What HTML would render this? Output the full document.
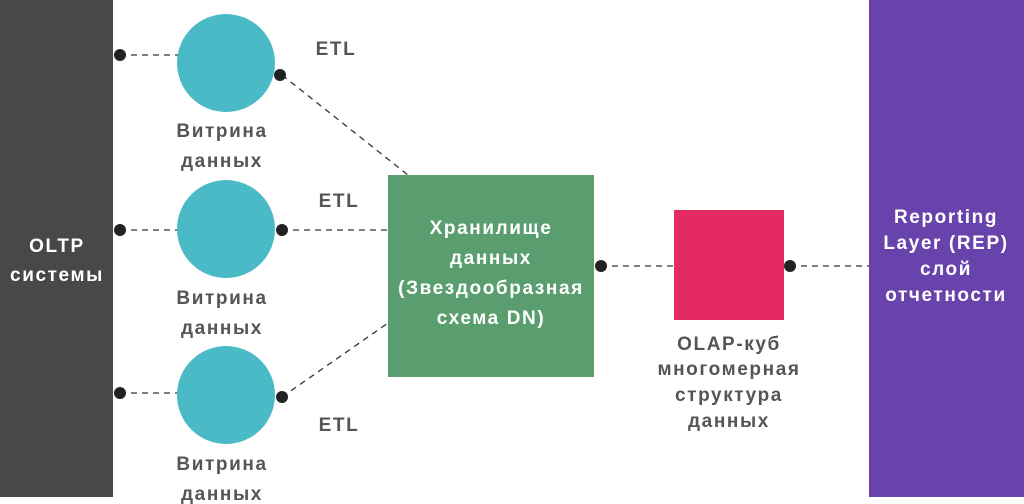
<!DOCTYPE html>
<html><head><meta charset="utf-8"><style>
html,body{margin:0;padding:0;background:#fff;}
svg{display:block}
text{font-family:"Liberation Sans","DejaVu Sans",sans-serif;font-weight:bold;font-size:19px;letter-spacing:1.6px;text-anchor:middle}
.g{fill:#555}
.w{fill:#fff}
line{stroke:#333;stroke-width:1.3;stroke-dasharray:6,5}
</style></head><body>
<svg width="1024" height="504" viewBox="0 0 1024 504">
<rect x="0" y="0" width="113" height="497" fill="#484848"/>
<rect x="869" y="0" width="155" height="497" fill="#6943ac"/>
<rect x="388" y="175" width="206" height="202" fill="#5a9e6f"/>
<rect x="674" y="210" width="110" height="110" fill="#e42a62"/>

<line x1="120" y1="55" x2="180" y2="55"/>
<line x1="120" y1="230" x2="180" y2="230"/>
<line x1="120" y1="393" x2="180" y2="393"/>
<line x1="282" y1="75" x2="408" y2="175"/>
<line x1="282" y1="230" x2="388" y2="230"/>
<line x1="282" y1="397" x2="388" y2="323"/>
<line x1="601" y1="266" x2="674" y2="266"/>
<line x1="790" y1="266" x2="869" y2="266"/>

<circle cx="226" cy="63" r="49" fill="#4abac6"/>
<circle cx="226" cy="229" r="49" fill="#4abac6"/>
<circle cx="226" cy="395" r="49" fill="#4abac6"/>

<g fill="#222">
<circle cx="120" cy="55" r="6"/><circle cx="280" cy="75" r="6"/>
<circle cx="120" cy="230" r="6"/><circle cx="282" cy="230" r="6"/>
<circle cx="120" cy="393" r="6"/><circle cx="282" cy="397" r="6"/>
<circle cx="601" cy="266" r="6"/><circle cx="790" cy="266" r="6"/>
</g>

<text class="g" x="336" y="55">ETL</text>
<text class="g" x="339" y="207">ETL</text>
<text class="g" x="339" y="431">ETL</text>

<text class="g" x="222" y="137">Витрина</text>
<text class="g" x="222" y="167">данных</text>
<text class="g" x="222" y="304">Витрина</text>
<text class="g" x="222" y="334">данных</text>
<text class="g" x="222" y="470">Витрина</text>
<text class="g" x="222" y="500">данных</text>

<text class="w" x="57" y="252">OLTP</text>
<text class="w" x="57" y="281">системы</text>

<text class="w" x="491" y="234">Хранилище</text>
<text class="w" x="491" y="264">данных</text>
<text class="w" x="491" y="294">(Звездообразная</text>
<text class="w" x="491" y="324">схема DN)</text>

<text class="g" x="729" y="350">OLAP-куб</text>
<text class="g" x="729" y="375">многомерная</text>
<text class="g" x="729" y="401">структура</text>
<text class="g" x="729" y="427">данных</text>

<text class="w" x="946" y="223">Reporting</text>
<text class="w" x="946" y="249">Layer (REP)</text>
<text class="w" x="946" y="275">слой</text>
<text class="w" x="946" y="301">отчетности</text>
</svg>
</body></html>
